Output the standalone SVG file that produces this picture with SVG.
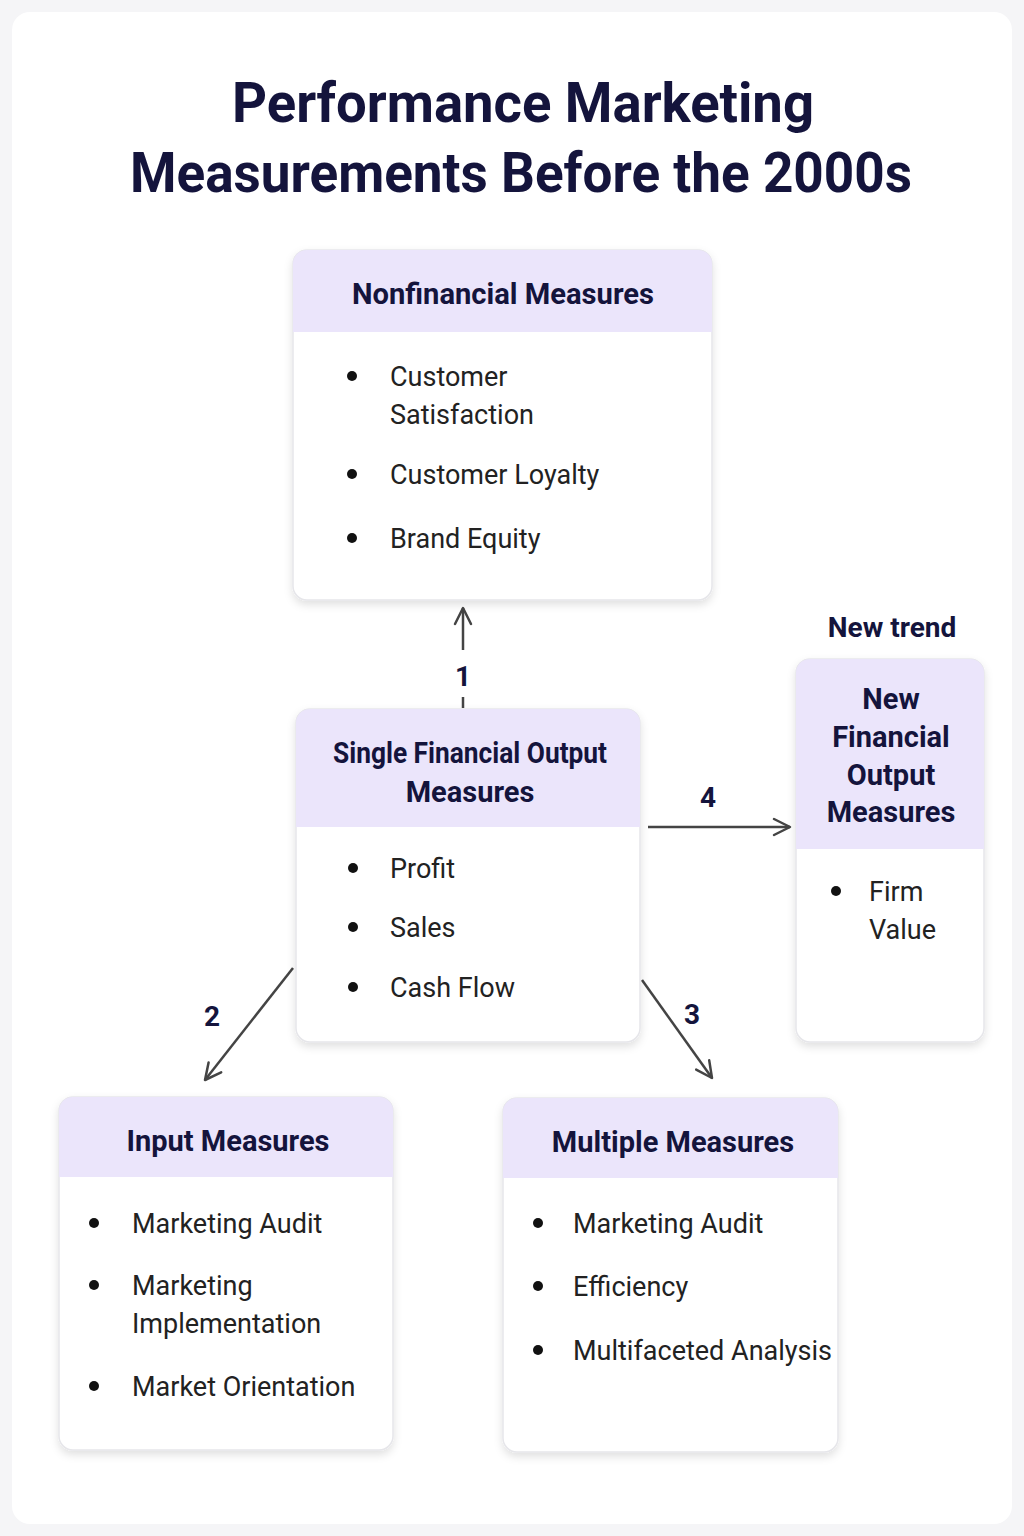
<svg xmlns="http://www.w3.org/2000/svg" width="1024" height="1536" viewBox="0 0 1024 1536">
<defs>
<filter id="sh" x="-10%" y="-10%" width="120%" height="125%"><feDropShadow dx="0" dy="4" stdDeviation="4" flood-color="#000" flood-opacity="0.12"/></filter>
<marker id="ar" viewBox="0 0 20 20" refX="18" refY="10" markerWidth="20" markerHeight="20" markerUnits="userSpaceOnUse" orient="auto"><path d="M2,2 L18,10 L2,18" fill="none" stroke="#444" stroke-width="2.5" stroke-linecap="round" stroke-linejoin="round"/></marker>
<clipPath id="c1"><rect x="293" y="250" width="419" height="350" rx="14"/></clipPath>
<clipPath id="c2"><rect x="296" y="709" width="344" height="333" rx="14"/></clipPath>
<clipPath id="c3"><rect x="796" y="659" width="188" height="383" rx="14"/></clipPath>
<clipPath id="c4"><rect x="59" y="1097" width="334" height="353" rx="14"/></clipPath>
<clipPath id="c5"><rect x="503" y="1098" width="335" height="354" rx="14"/></clipPath>
</defs>
<style>
.card{fill:#fff;stroke:#e6e6ea;stroke-width:1.5}
.hd{fill:#ebe5fb}
.ht{font-family:Roboto,"Liberation Sans",sans-serif;font-weight:bold;font-size:29px;fill:#14143c;text-anchor:middle}
.bt{font-family:Roboto,"Liberation Sans",sans-serif;font-size:27px;fill:#222}
.dot{fill:#111}
.ln{stroke:#444;stroke-width:2.5;fill:none;marker-end:url(#ar)}
.lb{font-family:Roboto,"Liberation Sans",sans-serif;font-weight:bold;font-size:28px;fill:#14143c;text-anchor:middle}
</style>
<rect width="1024" height="1536" fill="#f5f5f7"/>
<rect x="12" y="12" width="1000" height="1512" rx="18" fill="#fff"/>
<text x="523" y="122" class="ht" style="font-size:56px" textLength="582" lengthAdjust="spacingAndGlyphs">Performance Marketing</text>
<text x="521" y="192" class="ht" style="font-size:56px" textLength="782" lengthAdjust="spacingAndGlyphs">Measurements Before the 2000s</text>

<g id="connectors">
<path class="ln" d="M463,650 L463,608"/>
<path d="M463,697 L463,708" stroke="#444" stroke-width="2.5"/>
<text class="lb" x="463" y="686">1</text>
<path class="ln" d="M293,968 L205,1080"/>
<text class="lb" x="212" y="1026">2</text>
<path class="ln" d="M642,980 L712,1078"/>
<text class="lb" x="692" y="1024">3</text>
<path class="ln" d="M648,827 L790,827"/>
<text class="lb" x="708" y="807">4</text>
</g>

<g id="nonfinancial">
<rect class="card" x="293" y="250" width="419" height="350" rx="14" filter="url(#sh)"/>
<rect class="hd" x="293" y="250" width="419" height="82" clip-path="url(#c1)"/>
<text class="ht" x="503" y="304" textLength="302" lengthAdjust="spacingAndGlyphs">Nonfinancial Measures</text>
<circle class="dot" cx="352" cy="376" r="5"/><text class="bt" x="390" y="386">Customer</text><text class="bt" x="390" y="424">Satisfaction</text>
<circle class="dot" cx="352" cy="474" r="5"/><text class="bt" x="390" y="484">Customer Loyalty</text>
<circle class="dot" cx="352" cy="538" r="5"/><text class="bt" x="390" y="548">Brand Equity</text>
</g>

<g id="single">
<rect class="card" x="296" y="709" width="344" height="333" rx="14" filter="url(#sh)"/>
<rect class="hd" x="296" y="709" width="344" height="118" clip-path="url(#c2)"/>
<text class="ht" x="470" y="763" textLength="274" lengthAdjust="spacingAndGlyphs">Single Financial Output</text>
<text class="ht" x="470" y="802">Measures</text>
<circle class="dot" cx="353" cy="868" r="5"/><text class="bt" x="390" y="878">Profit</text>
<circle class="dot" cx="353" cy="927" r="5"/><text class="bt" x="390" y="937">Sales</text>
<circle class="dot" cx="353" cy="987" r="5"/><text class="bt" x="390" y="997">Cash Flow</text>
</g>

<g id="newfin">
<text class="ht" x="892" y="637" style="font-size:28px">New trend</text>
<rect class="card" x="796" y="659" width="188" height="383" rx="14" filter="url(#sh)"/>
<rect class="hd" x="796" y="659" width="188" height="190" clip-path="url(#c3)"/>
<text class="ht" x="891" y="709">New</text>
<text class="ht" x="891" y="747">Financial</text>
<text class="ht" x="891" y="785">Output</text>
<text class="ht" x="891" y="822">Measures</text>
<circle class="dot" cx="836" cy="891" r="5"/><text class="bt" x="869" y="901">Firm</text><text class="bt" x="869" y="939">Value</text>
</g>

<g id="input">
<rect class="card" x="59" y="1097" width="334" height="353" rx="14" filter="url(#sh)"/>
<rect class="hd" x="59" y="1097" width="334" height="80" clip-path="url(#c4)"/>
<text class="ht" x="228" y="1151">Input Measures</text>
<circle class="dot" cx="94" cy="1223" r="5"/><text class="bt" x="132" y="1233">Marketing Audit</text>
<circle class="dot" cx="94" cy="1285" r="5"/><text class="bt" x="132" y="1295">Marketing</text><text class="bt" x="132" y="1333">Implementation</text>
<circle class="dot" cx="94" cy="1386" r="5"/><text class="bt" x="132" y="1396">Market Orientation</text>
</g>

<g id="multiple">
<rect class="card" x="503" y="1098" width="335" height="354" rx="14" filter="url(#sh)"/>
<rect class="hd" x="503" y="1098" width="335" height="80" clip-path="url(#c5)"/>
<text class="ht" x="673" y="1152">Multiple Measures</text>
<circle class="dot" cx="538" cy="1223" r="5"/><text class="bt" x="573" y="1233">Marketing Audit</text>
<circle class="dot" cx="538" cy="1286" r="5"/><text class="bt" x="573" y="1296">Efficiency</text>
<circle class="dot" cx="538" cy="1350" r="5"/><text class="bt" x="573" y="1360">Multifaceted Analysis</text>
</g>
</svg>
